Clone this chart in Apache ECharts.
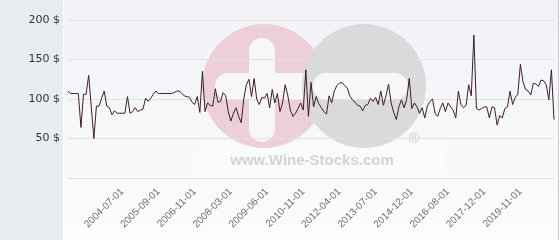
<!DOCTYPE html>
<html><head><meta charset="utf-8">
<script src="https://cdn.jsdelivr.net/npm/echarts@6/dist/echarts.min.js"></script>
<style>html,body{margin:0;padding:0;background:#fff}#c{width:560px;height:240px}</style>
</head><body><div id="c"></div>
<script>
const categories = [
"2002-10-01","2002-11-01","2002-12-01","2003-01-01","2003-02-01","2003-03-01","2003-04-01","2003-05-01","2003-06-01","2003-07-01",
"2003-08-01","2003-09-01","2003-10-01","2003-11-01","2003-12-01","2004-01-01","2004-02-01","2004-03-01","2004-04-01","2004-05-01",
"2004-06-01","2004-07-01","2004-08-01","2004-09-01","2004-10-01","2004-11-01","2004-12-01","2005-01-01","2005-02-01","2005-03-01",
"2005-04-01","2005-05-01","2005-06-01","2005-07-01","2005-08-01","2005-09-01","2005-10-01","2005-11-01","2005-12-01","2006-01-01",
"2006-02-01","2006-03-01","2006-04-01","2006-05-01","2006-06-01","2006-07-01","2006-08-01","2006-09-01","2006-10-01","2006-11-01",
"2006-12-01","2007-01-01","2007-03-01","2007-04-01","2007-05-01","2007-06-01","2007-07-01","2007-09-01","2007-10-01","2007-11-01",
"2007-12-01","2008-01-01","2008-02-01","2008-03-01","2008-04-01","2008-05-01","2008-06-01","2008-07-01","2008-09-01","2008-10-01",
"2008-11-01","2008-12-01","2009-01-01","2009-02-01","2009-03-01","2009-04-01","2009-05-01","2009-06-01","2009-07-01","2009-09-01",
"2009-10-01","2009-11-01","2009-12-01","2010-02-01","2010-03-01","2010-04-01","2010-05-01","2010-06-01","2010-08-01","2010-09-01",
"2010-10-01","2010-11-01","2010-12-01","2011-01-01","2011-03-01","2011-04-01","2011-05-01","2011-06-01","2011-07-01","2011-09-01",
"2011-10-01","2011-11-01","2011-12-01","2012-02-01","2012-03-01","2012-04-01","2012-05-01","2012-06-01","2012-07-01","2012-09-01",
"2012-10-01","2012-11-01","2012-12-01","2013-01-01","2013-02-01","2013-03-01","2013-04-01","2013-05-01","2013-06-01","2013-07-01",
"2013-09-01","2013-10-01","2013-11-01","2013-12-01","2014-02-01","2014-03-01","2014-04-01","2014-05-01","2014-06-01","2014-07-01",
"2014-09-01","2014-10-01","2014-11-01","2014-12-01","2015-01-01","2015-03-01","2015-04-01","2015-06-01","2015-07-01","2015-09-01",
"2015-10-01","2015-12-01","2016-01-01","2016-03-01","2016-04-01","2016-06-01","2016-07-01","2016-08-01","2016-09-01","2016-10-01",
"2016-11-01","2017-01-01","2017-02-01","2017-03-01","2017-04-01","2017-05-01","2017-07-01","2017-08-01","2017-09-01","2017-10-01",
"2017-11-01","2017-12-01","2018-01-01","2018-03-01","2018-05-01","2018-06-01","2018-08-01","2018-10-01","2018-11-01","2019-01-01",
"2019-03-01","2019-04-01","2019-06-01","2019-08-01","2019-09-01","2019-11-01","2019-12-01","2020-01-01","2020-02-01","2020-03-01",
"2020-05-01","2020-06-01","2020-07-01","2020-09-01","2020-10-01","2020-11-01","2020-12-01","2021-01-01","2021-02-01"
];
const prices = [
110,107,107,107,107,64,106,106,130,90,
50,91,91,101,110,91,89,80,85,82,
82,82,82,103,82,84,89,84,86,87,
101,97,101,106,110,107,107,107,107,107,
107,108,110,110,107,104,103,102,96,93,
103,83,135,84,95,92,91,113,96,97,
108,104,84,72,82,89,78,70,100,118,
125,103,126,100,93,102,101,107,89,112,
95,107,84,95,118,105,86,78,82,88,
95,86,137,78,121,90,103,94,89,84,
81,104,95,110,117,120,121,117,114,104,
99,96,92,91,85,92,93,101,97,102,
93,110,92,104,119,95,83,74,90,99,
89,99,126,88,95,90,82,89,76,91,
97,100,82,78,88,95,84,95,90,86,
76,110,93,89,92,118,104,181,88,86,
88,90,90,76,90,89,67,79,76,88,
90,110,93,102,106,144,122,112,110,105,
120,119,116,124,123,118,99,137,74
];
const xLabelDates = ["2004-07-01","2005-09-01","2006-11-01","2008-03-01","2009-06-01","2010-11-01",
"2012-04-01","2013-07-01","2014-12-01","2016-08-01","2017-12-01","2019-11-01"];
const yMin = 0, yMax = 200, yStep = 50;
const yUnit = " $";

const chart = echarts.init(document.getElementById('c'), null, {renderer: 'canvas'});
const bgGrad = new echarts.graphic.LinearGradient(0, 0, 0, 1, [
  {offset: 0, color: '#f1f2f6'}, {offset: 1, color: '#fcfcfd'}
]);
chart.setOption({
  animation: false,
  backgroundColor: '#ffffff',
  grid: {left: 68, right: 6, top: 20, bottom: 62},
  graphic: {elements: [
    {type: 'rect', z: -20, silent: true, shape: {x: 64, y: 0, width: 495, height: 240}, style: {fill: bgGrad}},
    {type: 'rect', z: -19, silent: true, shape: {x: 0, y: 0, width: 63, height: 240}, style: {fill: '#e8ecef'}},
    {type: 'rect', z: -19, silent: true, shape: {x: 558, y: 0, width: 1, height: 240}, style: {fill: '#c9c9cc'}},
    {type: 'rect', z: -18, silent: true, shape: {x: 197, y: 142, width: 248, height: 33}, style: {fill: 'rgba(255,255,255,0.35)'}},
    {type: 'circle', z: -17, silent: true, shape: {cx: 264, cy: 86, r: 62}, style: {fill: '#edd0d7'}},
    {type: 'rect', z: -16, silent: true, shape: {x: 249, y: 38, width: 26, height: 104, r: 13}, style: {fill: '#f7f7f9'}},
    {type: 'rect', z: -16, silent: true, shape: {x: 215, y: 73, width: 100, height: 27, r: 13}, style: {fill: '#f7f7f9'}},
    {type: 'circle', z: -15, silent: true, shape: {cx: 364, cy: 86, r: 62}, style: {fill: '#dadadc'}},
    {type: 'rect', z: -14, silent: true, shape: {x: 313, y: 73, width: 95, height: 27, r: 13}, style: {fill: '#f7f7f9'}},
    {type: 'text', z: -14, silent: true, style: {x: 312, y: 161, text: 'www.Wine-Stocks.com', align: 'center', verticalAlign: 'middle', font: 'bold 15px "Liberation Sans", Arial, sans-serif', fill: '#d3d3d5'}},
    {type: 'text', z: -14, silent: true, style: {x: 414, y: 139, text: '®', align: 'center', verticalAlign: 'middle', font: '14px "Liberation Sans", Arial, sans-serif', fill: '#cfcfd1'}}
  ]},
  xAxis: {
    type: 'category',
    data: categories,
    boundaryGap: false,
    axisLine: {show: false},
    axisTick: {show: false},
    splitLine: {show: false},
    axisLabel: {
      rotate: 45,
      margin: 12,
      interval: (idx, val) => xLabelDates.includes(val),
      color: '#6e6e6e',
      fontSize: 10,
      fontFamily: '"Liberation Sans", Arial, sans-serif'
    }
  },
  yAxis: {
    type: 'value',
    min: yMin, max: yMax, interval: yStep,
    axisLine: {show: false},
    axisTick: {show: false},
    splitLine: {lineStyle: {color: '#dfe1e4', width: 1}},
    axisLabel: {
      margin: 8,
      color: '#333333',
      fontSize: 11,
      fontFamily: '"DejaVu Sans", sans-serif',
      formatter: v => v === 0 ? '' : v + yUnit
    }
  },
  series: [{
    type: 'line',
    data: prices,
    symbol: 'none',
    lineStyle: {color: '#3c1e2c', width: 1},
    z: 3
  }]
});
</script>
</body></html>
